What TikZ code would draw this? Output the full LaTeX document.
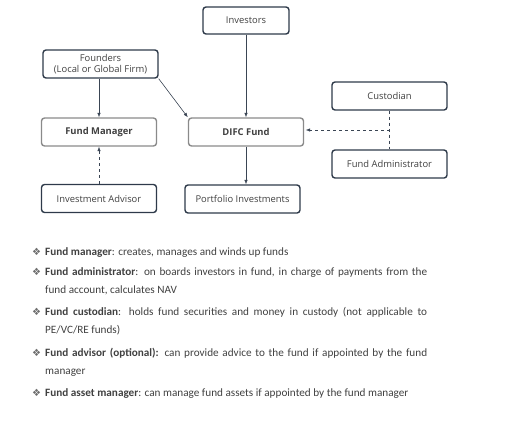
\documentclass[tikz,border=0pt]{standalone}
\usepackage{fontspec}
\setmainfont{Carlito}
\newfontfamily\boxfont{Open Sans}
\newfontfamily\symfont{DejaVu Sans}
\usepackage{xcolor}
\usetikzlibrary{arrows.meta,positioning}

\definecolor{edgedark}{HTML}{2E3A4A}
\definecolor{edgegray}{HTML}{8A8A8A}
\definecolor{linkcol}{HTML}{3A4554}
\definecolor{txtcol}{HTML}{404040}
\definecolor{bulcol}{HTML}{6E6E6E}

\begin{document}
\begin{tikzpicture}[
  x=1pt,y=-1pt,
  box/.style={rectangle,rounded corners=3pt,draw=edgedark,line width=1.4pt,minimum width=115pt,minimum height=28pt,align=center,text=txtcol,font=\boxfont\fontsize{9.4}{11.5}\selectfont},
  keybox/.style={box,draw=edgegray,font=\boxfont\bfseries\fontsize{9.4}{11.5}\selectfont},
  link/.style={-{Latex[length=4.5pt,width=3.5pt]},draw=linkcol,line width=0.6pt},
  dashlink/.style={link,dashed},
  bul/.style={anchor=base west,inner sep=0pt,text=bulcol,font=\symfont\fontsize{10}{12}\selectfont},
  item/.style={anchor=base west,inner sep=0pt,text width=382pt,align=justify,text=txtcol,font=\fontsize{11.2}{18.7}\selectfont},
]
\useasboundingbox (0,0) rectangle (513,429);

% Boxes
\node[box,minimum width=86pt,minimum height=27pt] (inv) at (246,20.5) {Investors};
\node[box,inner sep=2pt] (found) at (100.5,64) {Founders\\(Local or Global Firm)};
\node[keybox] (fm) at (99,132) {Fund Manager};
\node[keybox] (fund) at (246,132) {DIFC Fund};
\node[box] (cust) at (389.5,96) {Custodian};
\node[box] (admin) at (389.5,164) {Fund Administrator};
\node[box] (adv) at (99,198.5) {Investment Advisor};
\node[box] (port) at (242.5,199) {Portfolio Investments};

% Connectors
\draw[link] (inv) -- (fund);
\draw[link] (found.south -| fm.north) -- (fm.north);
\draw[link] (found.south east) -- (fund.north west);
\draw[link] (fund.south) -- (fund.south |- port.north);
\draw[dashlink] (adv) -- (fm);
\draw[linkcol,line width=0.6pt,dashed] (cust) -- coordinate (mid) (admin);
\draw[dashlink,shorten >=1.5pt] (mid) -- (mid -| fund.east);

% Notes
\node[bul] (b1) at (32,255) {❖};
\node[item] (t1) at (45,255) {\textbf{Fund manager}: creates, manages and winds up funds};
\node[bul] (b2) at (32,275) {❖};
\node[item] (t2) at (45,275) {\textbf{Fund administrator}: on boards investors in fund, in charge of payments from the\linebreak fund account, calculates NAV};
\node[bul] (b3) at (32,315) {❖};
\node[item] (t3) at (45,315) {\textbf{Fund custodian}: holds fund securities and money in custody (not applicable to PE/VC/RE funds)};
\node[bul] (b4) at (32,356) {❖};
\node[item] (t4) at (45,356) {\textbf{Fund advisor (optional):} can provide advice to the fund if appointed by the fund manager};
\node[bul] (b5) at (32,396) {❖};
\node[item] (t5) at (45,396) {\textbf{Fund asset manager}: can manage fund assets if appointed by the fund manager};

\end{tikzpicture}
\end{document}
